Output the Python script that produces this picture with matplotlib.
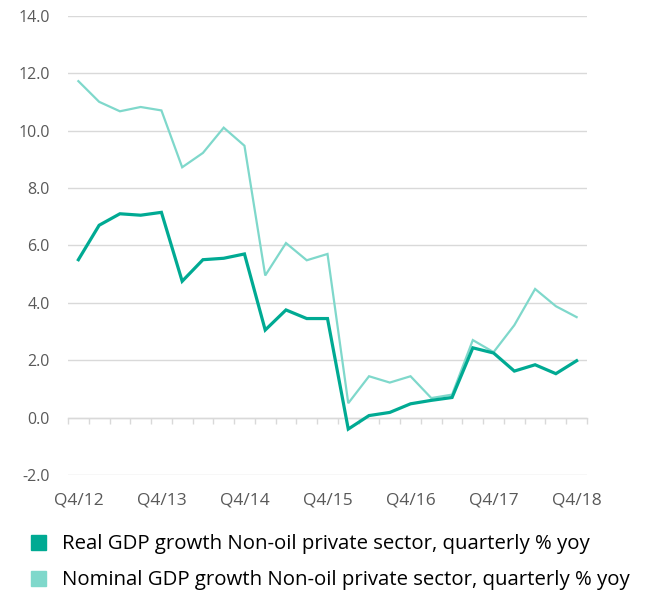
"""Non-oil private sector GDP growth, real vs nominal"""
import numpy as np
import matplotlib
matplotlib.use('Agg')
import matplotlib.pyplot as plt
from matplotlib.lines import Line2D

plt.rcParams['font.family'] = ['Open Sans', 'DejaVu Sans']

quarters = ['Q4/12', 'Q1/13', 'Q2/13', 'Q3/13', 'Q4/13', 'Q1/14', 'Q2/14', 'Q3/14', 'Q4/14',
            'Q1/15', 'Q2/15', 'Q3/15', 'Q4/15', 'Q1/16', 'Q2/16', 'Q3/16', 'Q4/16',
            'Q1/17', 'Q2/17', 'Q3/17', 'Q4/17', 'Q1/18', 'Q2/18', 'Q3/18', 'Q4/18']
real_gdp = [5.5, 6.7, 7.1, 7.05, 7.15, 4.75, 5.5, 5.55, 5.7,
            3.05, 3.75, 3.45, 3.45, -0.4, 0.07, 0.18, 0.48,
            0.6, 0.7, 2.43, 2.25, 1.62, 1.84, 1.53, 1.98]
nominal_gdp = [11.72, 11.0, 10.67, 10.82, 10.7, 8.72, 9.22, 10.1, 9.47,
               4.95, 6.08, 5.48, 5.7, 0.5, 1.44, 1.22, 1.44,
               0.68, 0.8, 2.7, 2.28, 3.22, 4.48, 3.88, 3.5]
label_real = 'Real GDP growth Non-oil private sector, quarterly % yoy'
label_nominal = 'Nominal GDP growth Non-oil private sector, quarterly % yoy'

c_real = '#00AA93'
c_nominal = '#7FD8CB'
c_grid = '#D9D9D9'
c_tick = '#595959'

fig = plt.figure(figsize=(6.45, 5.91), dpi=100)
ax = fig.add_axes([68 / 645, 1 - 475 / 591, (587 - 68) / 645, (475 - 15.7) / 591])

x = np.arange(len(quarters))
ax.plot(x, nominal_gdp, color=c_nominal, lw=1.6, solid_joinstyle='miter', zorder=3)
ax.plot(x, real_gdp, color=c_real, lw=2.3, solid_joinstyle='miter', zorder=4)

ax.set_xlim(-0.5, len(quarters) - 0.5)
ax.set_ylim(-2, 14)
ax.set_yticks(np.arange(-2, 14.1, 2))
ax.set_yticklabels([f'{v:.1f}' for v in np.arange(-2, 14.1, 2)])
ax.yaxis.grid(True, color=c_grid, lw=1)
ax.set_axisbelow(True)

for s in ['top', 'right', 'left']:
    ax.spines[s].set_visible(False)
ax.spines['bottom'].set_position(('data', 0))
ax.spines['bottom'].set_color(c_grid)
ax.spines['bottom'].set_linewidth(1)

ax.set_xticks(x[::4])
ax.set_xticklabels(quarters[::4])
ax.set_xticks(np.arange(-0.5, len(quarters), 1), minor=True)
ax.tick_params(axis='x', which='major', length=0, pad=54, labelsize=12.5, labelcolor=c_tick)
ax.tick_params(axis='x', which='minor', length=4.5, width=1, color=c_grid)
ax.tick_params(axis='y', length=0, pad=13, labelsize=11.5, labelcolor=c_tick)

handles = [Line2D([], [], ls='none', marker='s', markersize=10.8, color=c_real),
           Line2D([], [], ls='none', marker='s', markersize=10.8, color=c_nominal)]
fig.legend(handles, [label_real, label_nominal], loc='upper left',
           bbox_to_anchor=(17 / 645, 1 - 524 / 591), frameon=False, fontsize=14.7,
           handlelength=1.1, handletextpad=0.62, labelspacing=0.76, borderpad=0)

fig.savefig('out.png', dpi=100, facecolor='white')
